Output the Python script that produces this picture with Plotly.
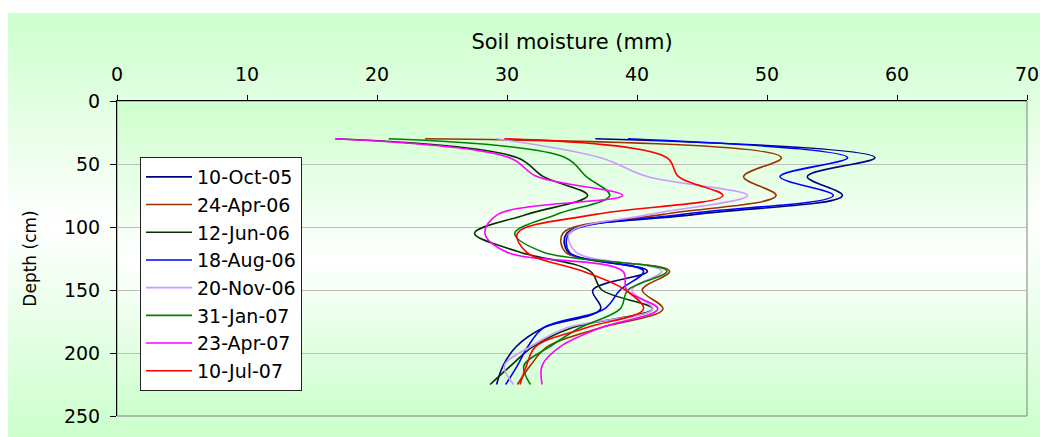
import plotly.graph_objects as go

# Measurement depths (cm)
depths = [30, 45, 60, 75, 90, 105, 120, 135, 150, 165, 180, 195, 210, 225]

# Soil moisture (mm) per sampling date
oct_05 = [36.8, 58.3, 53.1, 55.8, 44.5, 34.6, 34.7, 40.8, 36.6, 37.2, 32.8, 30.7, 29.7, 29.2]
apr_06 = [23.7, 51.1, 48.2, 50.7, 42.0, 34.3, 34.5, 42.5, 40.4, 42.0, 37.2, 33.1, 31.8, 30.8]
jun_06 = [16.8, 30.8, 32.8, 36.2, 31.5, 27.5, 31.0, 36.4, 37.3, 41.2, 35.0, 32.0, 30.3, 28.7]
aug_06 = [39.3, 56.2, 51.0, 55.1, 43.5, 34.8, 34.8, 40.5, 38.7, 37.5, 32.8, 31.6, 30.8, 29.9]
nov_06 = [29.2, 37.2, 40.8, 48.5, 41.0, 34.8, 35.3, 41.9, 39.6, 41.2, 34.6, 31.8, 29.8, 30.5]
jan_07 = [20.9, 34.5, 36.1, 37.9, 33.8, 30.6, 32.8, 42.3, 39.3, 38.7, 35.6, 33.3, 31.3, 31.8]
apr_07 = [16.8, 30.2, 32.3, 38.9, 29.3, 28.3, 30.0, 38.9, 39.2, 41.6, 37.2, 34.1, 32.7, 32.7]
jul_07 = [29.8, 42.3, 43.2, 46.6, 36.8, 30.8, 31.5, 35.8, 39.1, 40.5, 36.1, 32.2, 31.5, 31.0]

labels = ["10-Oct-05", "24-Apr-06", "12-Jun-06", "18-Aug-06",
          "20-Nov-06", "31-Jan-07", "23-Apr-07", "10-Jul-07"]
colors = ["#000080", "#993300", "#003300", "#0000ff",
          "#cc99ff", "#008000", "#ff00ff", "#ff0000"]
profiles = [oct_05, apr_06, jun_06, aug_06, nov_06, jan_07, apr_07, jul_07]

FONT = "DejaVu Sans"
W, H = 1040, 437
ML, MR, MT, MB = 117, 13, 101, 21
PW, PH = W - ML - MR, H - MT - MB

fig = go.Figure()
for name, vals, col in zip(labels, profiles, colors):
    fig.add_trace(go.Scatter(
        x=vals, y=depths, name=name, mode="lines",
        line=dict(color=col, width=1.6, shape="spline", smoothing=1.0),
    ))


def px_to_paper_x(px):
    return (px - ML) / PW


def px_to_paper_y(py):
    return (MT + PH - py) / PH


def mix(t):
    # t = 0 -> pale green, t = 1 -> white
    g = (204, 255, 204)
    c = [round(a + (255 - a) * t) for a in g]
    return "rgb(%d,%d,%d)" % tuple(c)


def gradient(x0, x1, y0, y1, ymid, n=40):
    """Vertical green-white-green band between pixel rows y0..y1."""
    out = []
    edges = []
    for i in range(n + 1):
        edges.append(y0 + (ymid - y0) * i / n)
    for i in range(1, n + 1):
        edges.append(ymid + (y1 - ymid) * i / n)
    for i in range(len(edges) - 1):
        a, b = edges[i], edges[i + 1]
        c = 0.5 * (a + b)
        if c <= ymid:
            t = (c - y0) / (ymid - y0)
        else:
            t = (y1 - c) / (y1 - ymid)
        out.append(dict(
            type="rect", xref="paper", yref="paper", layer="below",
            x0=px_to_paper_x(x0), x1=px_to_paper_x(x1),
            y0=px_to_paper_y(b + 0.6), y1=px_to_paper_y(a),
            fillcolor=mix(t), line=dict(width=0),
        ))
    return out


shapes = []
# chart area
shapes += gradient(8, W, 13, H, 225)
# plot area
shapes += gradient(ML, ML + PW, MT, MT + PH, 258)
# plot area frame
shapes.append(dict(type="rect", xref="paper", yref="paper", layer="below",
                   x0=0, x1=1, y0=0, y1=1,
                   line=dict(color="#808080", width=1), fillcolor="rgba(0,0,0,0)"))

fig.update_layout(
    template="none",
    width=W, height=H,
    margin=dict(l=ML, r=MR, t=MT, b=MB, pad=0),
    paper_bgcolor="white",
    plot_bgcolor="rgba(0,0,0,0)",
    font=dict(family=FONT, color="black", size=19),
    shapes=shapes,
    showlegend=True,
    legend=dict(
        x=px_to_paper_x(140), y=px_to_paper_y(157),
        xanchor="left", yanchor="top",
        bgcolor="white", bordercolor="#222222", borderwidth=1,
        font=dict(family=FONT, size=19, color="black"),
        itemwidth=46, tracegroupgap=0,
    ),
    xaxis=dict(
        side="top", range=[0, 70], tick0=0, dtick=10,
        showgrid=False, zeroline=False,
        showline=True, linecolor="black", linewidth=1,
        ticks="outside", ticklen=5, tickcolor="black", tickwidth=1,
        tickfont=dict(family=FONT, size=19, color="black"),
        ticklabelstandoff=6,
        title=dict(text="Soil moisture (mm)", standoff=8,
                   font=dict(family=FONT, size=21, color="black")),
        automargin=False,
    ),
    yaxis=dict(
        range=[250, 0], tick0=0, dtick=50,
        showgrid=True, gridcolor="#bdbdbd", gridwidth=1.2,
        zeroline=False,
        showline=True, linecolor="black", linewidth=1,
        ticks="outside", ticklen=6, tickcolor="black", tickwidth=1,
        tickfont=dict(family=FONT, size=19, color="black"),
        ticklabelstandoff=6,
        title=dict(text="Depth (cm)", standoff=22,
                   font=dict(family=FONT, size=17, color="black")),
        automargin=False,
    ),
)

fig.write_html("out.html")
